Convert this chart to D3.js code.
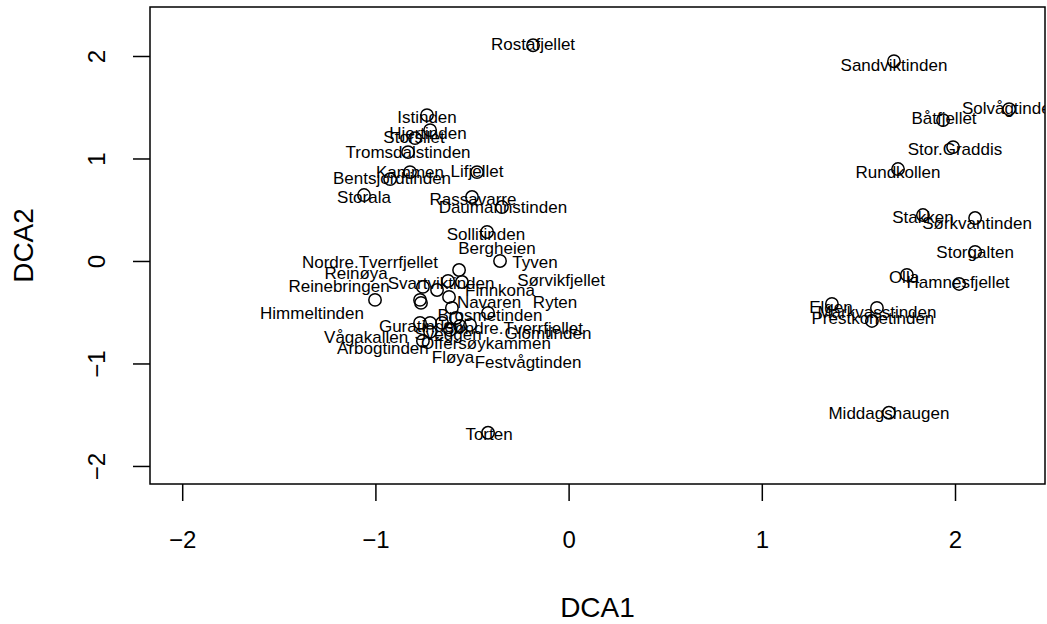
<!DOCTYPE html>
<html>
<head>
<meta charset="UTF-8">
<script src="https://d3js.org/d3.v7.min.js"></script>
<style>
  body { margin: 0; background: #fff; }
  text { font-family: "Liberation Sans", Arial, Helvetica, sans-serif; }
</style>
</head>
<body>
<svg id="canvas"></svg>
<script>
// site names and DCA scores (axis 1, axis 2)
const sites = ["Rostafjellet", "Istinden", "Hjertinden", "Storsilet", "Tromsdalstinden", "Kammen",
  "Bentsjordtinden", "Lifjellet", "Storala", "Rassavarre", "Daumannstinden", "Sollitinden", "Torten",
  "Sandviktinden", "Solvågtinden", "Båtfjellet", "Stor.Graddis", "Rundkollen", "Stakken", "Sørkvantinden",
  "Storgalten", "Olla", "Hamnesfjellet", "Elgen", "Markvasstinden", "Prestkonetinden", "Middagshaugen",
  "Bergheien", "Tyven", "Nordre.Tverrfjellet", "Reinøya", "Reinebringen", "Svartviktinden", "Finnkona",
  "Sørvikfjellet", "Navaren", "Ryten", "Himmeltinden", "Brosmetinden", "Guratinden", "Søndre.Tverrfjellet",
  "Vågakallen", "Sveggen", "Glomtinden", "Offersøykammen", "Arbogtinden", "Fløya", "Festvågtinden"];

const dca1 = [-0.184, -0.733, -0.717, -0.795, -0.831, -0.821,
  -0.924, -0.474, -1.059, -0.500, -0.345, -0.422, -0.417,
  1.684, 2.280, 1.938, 1.990, 1.705, 1.834, 2.104,
  2.104, 1.751, 2.021, 1.363, 1.596, 1.570, 1.658,
  -0.567, -0.355, -0.754, -0.769, -0.764, -0.624, -0.552,
  -0.681, -0.619, -0.417, -1.002, -0.604, -0.769, -0.583,
  -0.717, -0.655, -0.510, -0.614, -0.754, -0.717, -0.562];

const dca2 = [2.105, 1.423, 1.277, 1.199, 1.062, 0.867,
  0.799, 0.867, 0.643, 0.624, 0.526, 0.283, -1.676,
  1.949, 1.481, 1.374, 1.111, 0.897, 0.448, 0.419,
  0.088, -0.136, -0.224, -0.419, -0.458, -0.585, -1.481,
  -0.088, 0.000, -0.253, -0.380, -0.409, -0.195, -0.205,
  -0.283, -0.351, -0.507, -0.380, -0.458, -0.604, -0.556,
  -0.604, -0.604, -0.624, -0.673, -0.780, -0.692, -0.634];

// label positions (in DCA units), moved off the points to reduce overlap
const labX = [-0.184, -0.733, -0.728, -0.800, -0.831, -0.821,
  -0.914, -0.474, -1.059, -0.495, -0.340, -0.428, -0.412,
  1.684, 2.290, 1.943, 2.000, 1.705, 1.834, 2.114,
  2.104, 1.736, 2.016, 1.358, 1.596, 1.575, 1.658,
  -0.371, -0.174, -1.028, -1.100, -1.188, -0.660, -0.355,
  -0.039, -0.412, -0.070, -1.328, -0.407, -0.764, -0.288,
  -1.048, -0.624, -0.107, -0.428, -0.961, -0.598, -0.210];

const labY = [2.115, 1.404, 1.248, 1.209, 1.062, 0.867,
  0.809, 0.877, 0.624, 0.604, 0.526, 0.263, -1.686,
  1.910, 1.491, 1.394, 1.092, 0.867, 0.429, 0.370,
  0.088, -0.156, -0.205, -0.448, -0.497, -0.556, -1.481,
  0.127, -0.010, -0.010, -0.117, -0.244, -0.214, -0.283,
  -0.185, -0.400, -0.400, -0.507, -0.526, -0.634, -0.653,
  -0.741, -0.712, -0.702, -0.799, -0.848, -0.936, -0.984];

const xTicks = [-2, -1, 0, 1, 2];
const yTicks = [-2, -1, 0, 1, 2];

width = 1047;
height = 624;
margin = {left: 150, right: 2, top: 7, bottom: 140};

svg = d3.select("#canvas")
    .attr("width", width)
    .attr("height", height);

x = d3.scaleLinear()
    .domain([-2.1667, 2.4658])
    .range([margin.left, width - margin.right]);

y = d3.scaleLinear()
    .domain([-2.176, 2.478])
    .range([height - margin.bottom, margin.top]);

data = sites.map((s, i) => ({name: s, x: dca1[i], y: dca2[i], lx: labX[i], ly: labY[i]}));

svg.append("clipPath").attr("id", "plotclip")
  .append("rect")
    .attr("x", x.range()[0]).attr("y", y.range()[1])
    .attr("width", x.range()[1] - x.range()[0])
    .attr("height", y.range()[0] - y.range()[1]);

fmt = d3.format("d");

// axes
xAxis = svg.append("g")
    .attr("transform", "translate(0," + y.range()[0] + ")")
    .call(d3.axisBottom(x).tickValues(xTicks).tickFormat(fmt).tickSize(17).tickPadding(30).tickSizeOuter(0));
yAxis = svg.append("g")
    .attr("transform", "translate(" + x.range()[0] + ",0)")
    .call(d3.axisLeft(y).tickValues(yTicks).tickFormat(fmt).tickSize(17).tickSizeOuter(0));

xAxis.select(".domain").remove();
yAxis.select(".domain").remove();
svg.selectAll(".tick line").attr("stroke", "#000").attr("stroke-width", 1.5);
xAxis.selectAll(".tick text")
    .attr("font-size", 24)
    .attr("font-family", "Liberation Sans, Arial, sans-serif")
    .attr("fill", "#000");
yAxis.selectAll(".tick text")
    .attr("font-size", 24)
    .attr("font-family", "Liberation Sans, Arial, sans-serif")
    .attr("fill", "#000")
    .attr("text-anchor", "middle")
    .attr("x", null).attr("dy", null)
    .attr("transform", "translate(-53,0) rotate(-90)")
    .attr("dy", "0.35em");

// box
svg.append("rect")
    .attr("x", x.range()[0]).attr("y", y.range()[1])
    .attr("width", x.range()[1] - x.range()[0])
    .attr("height", y.range()[0] - y.range()[1])
    .attr("fill", "none").attr("stroke", "#000").attr("stroke-width", 1.5);

// axis titles
svg.append("text")
    .attr("x", (x.range()[0] + x.range()[1]) / 2)
    .attr("y", 617)
    .attr("text-anchor", "middle")
    .attr("font-size", 28)
    .text("DCA1");
svg.append("text")
    .attr("transform", "translate(33," + (y.range()[0] + y.range()[1]) / 2 + ") rotate(-90)")
    .attr("text-anchor", "middle")
    .attr("font-size", 28)
    .text("DCA2");

plot = svg.append("g").attr("clip-path", "url(#plotclip)");

plot.selectAll("circle")
    .data(data)
  .enter().append("circle")
    .attr("cx", d => x(d.x))
    .attr("cy", d => y(d.y))
    .attr("r", 6.2)
    .attr("fill", "none")
    .attr("stroke", "#000")
    .attr("stroke-width", 1.5);

plot.selectAll("text.site")
    .data(data)
  .enter().append("text")
    .attr("class", "site")
    .attr("x", d => x(d.lx))
    .attr("y", d => y(d.ly))
    .attr("dy", "0.35em")
    .attr("text-anchor", "middle")
    .attr("font-size", 17)
    .attr("fill", "#000")
    .text(d => d.name);
</script>
</body>
</html>
